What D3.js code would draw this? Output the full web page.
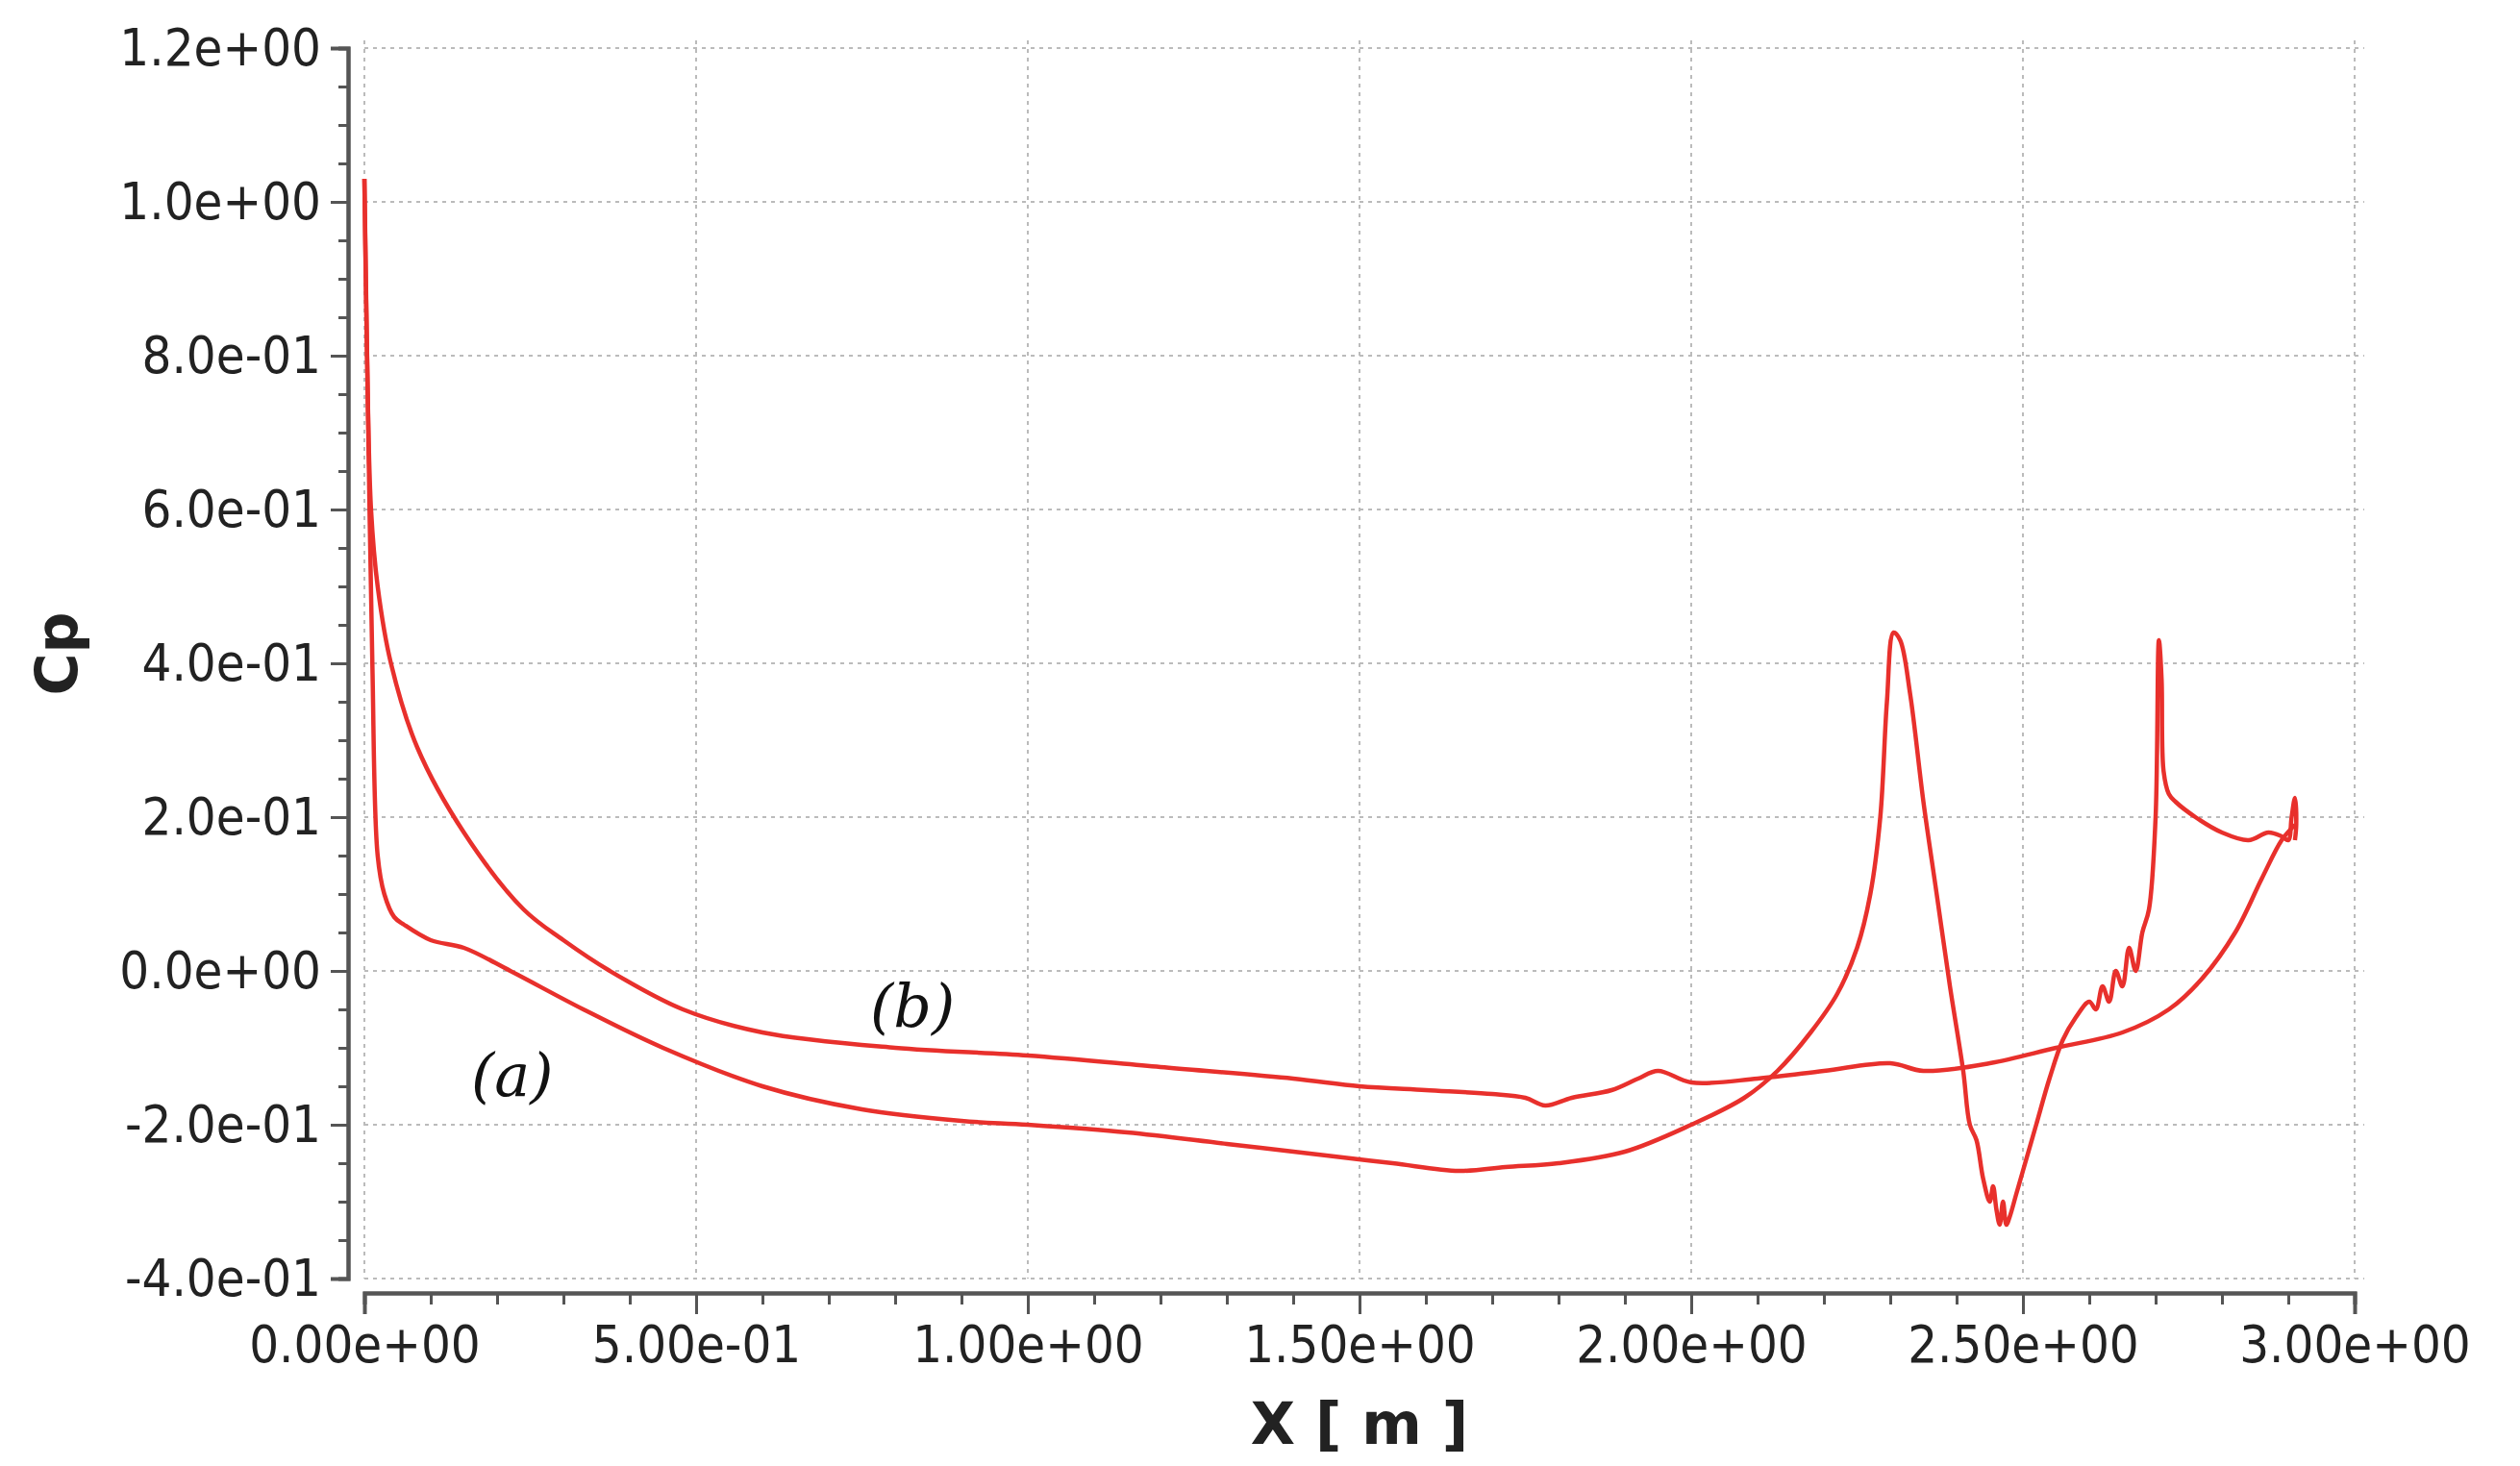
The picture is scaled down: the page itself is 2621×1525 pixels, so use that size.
<!DOCTYPE html>
<html><head><meta charset="utf-8">
<script src="https://cdn.jsdelivr.net/npm/d3@7"></script>
<style>body{margin:0;background:#fff}</style></head>
<body><svg id="c" width="2621" height="1525"></svg>
<script>
const xTicks=[0,0.5,1.0,1.5,2.0,2.5,3.0];
const xTickLabels=["0.00e+00","5.00e-01","1.00e+00","1.50e+00","2.00e+00","2.50e+00","3.00e+00"];
const yTicks=[1.2,1.0,0.8,0.6,0.4,0.2,0,-0.2,-0.4];
const yTickLabels=["1.2e+00","1.0e+00","8.0e-01","6.0e-01","4.0e-01","2.0e-01","0.0e+00","-2.0e-01","-4.0e-01"];
// curve (a): lower branch with the aft peaks
const aX=[0,0.005,0.012,0.02,0.03,0.045,0.06,0.1,0.15,0.22,0.33,0.45,0.6,0.75,0.9,1.0,1.15,1.3,1.45,1.55,1.65,1.72,1.8,1.9,2.0,2.08,2.13,2.18,2.22,2.25,2.27,2.285,2.295,2.305,2.315,2.33,2.35,2.37,2.39,2.41,2.42,2.43,2.44,2.45,2.455,2.46,2.465,2.47,2.475,2.48,2.49,2.5,2.52,2.54,2.56,2.58,2.6,2.61,2.62,2.63,2.64,2.65,2.66,2.67,2.68,2.69,2.70,2.705,2.709,2.712,2.72,2.73,2.76,2.8,2.84,2.87,2.89,2.9,2.905,2.91,2.912,2.91];
const aY=[1.03,0.75,0.4,0.15,0.1,0.07,0.06,0.04,0.03,0.0,-0.05,-0.1,-0.15,-0.18,-0.195,-0.2,-0.21,-0.225,-0.24,-0.25,-0.26,-0.255,-0.25,-0.235,-0.2,-0.165,-0.13,-0.08,-0.03,0.03,0.1,0.2,0.35,0.44,0.43,0.36,0.22,0.1,-0.02,-0.13,-0.2,-0.22,-0.27,-0.3,-0.28,-0.31,-0.33,-0.3,-0.33,-0.32,-0.29,-0.26,-0.2,-0.14,-0.09,-0.06,-0.04,-0.05,-0.02,-0.04,0.0,-0.02,0.03,0.0,0.05,0.08,0.2,0.43,0.38,0.26,0.23,0.22,0.2,0.18,0.17,0.18,0.175,0.17,0.2,0.225,0.19,0.17];
// curve (b): upper branch
const bX=[0,0.004,0.01,0.02,0.04,0.08,0.15,0.24,0.3,0.37,0.48,0.6,0.8,1.0,1.2,1.4,1.5,1.6,1.7,1.75,1.78,1.82,1.88,1.92,1.95,2.0,2.1,2.2,2.3,2.35,2.45,2.55,2.65,2.72,2.77,2.82,2.86,2.89,2.91];
const bY=[1.03,0.8,0.6,0.5,0.4,0.29,0.18,0.08,0.04,0.0,-0.05,-0.08,-0.1,-0.11,-0.125,-0.14,-0.15,-0.155,-0.16,-0.165,-0.175,-0.165,-0.155,-0.14,-0.13,-0.145,-0.14,-0.13,-0.12,-0.13,-0.12,-0.1,-0.08,-0.05,-0.01,0.05,0.12,0.17,0.19];

const svg=d3.select("#c");
const x=d3.scaleLinear().domain([0,3]).range([379,2449]);
const y=d3.scaleLinear().domain([-0.4,1.2]).range([1330,50]);
const font="'DejaVu Sans Condensed','DejaVu Sans',sans-serif";
svg.append("g").selectAll("line").data(xTicks).join("line")
 .attr("x1",d=>x(d)).attr("x2",d=>x(d)).attr("y1",y(1.2)-8).attr("y2",y(-0.4))
 .attr("stroke","#bbb").attr("stroke-width",2).attr("stroke-dasharray","4,5");
svg.append("g").selectAll("line").data(yTicks).join("line")
 .attr("x1",x(0)).attr("x2",x(3)+10).attr("y1",d=>y(d)).attr("y2",d=>y(d))
 .attr("stroke","#bbb").attr("stroke-width",2).attr("stroke-dasharray","4,5");
svg.append("g").attr("transform","translate(362,0)")
 .call(d3.axisLeft(y).tickValues(yTicks).tickFormat((d,i)=>yTickLabels[i]).tickSize(18).tickPadding(10));
svg.append("g").attr("transform","translate(362,0)")
 .call(d3.axisLeft(y).tickValues(d3.range(-0.4,1.2001,0.05)).tickFormat("").tickSize(10));
svg.append("g").attr("transform","translate(0,1345)")
 .call(d3.axisBottom(x).tickValues(xTicks).tickFormat((d,i)=>xTickLabels[i]).tickSize(22).tickPadding(12));
svg.append("g").attr("transform","translate(0,1345)")
 .call(d3.axisBottom(x).tickValues(d3.range(0,3.0001,0.1)).tickFormat("").tickSize(12));
svg.selectAll(".domain").attr("stroke","#555").attr("stroke-width",4);
svg.selectAll(".tick line").attr("stroke","#555").attr("stroke-width",3);
svg.selectAll(".tick text").attr("font-family",font).attr("font-size",54).attr("fill","#222");
svg.append("text").attr("x",1414).attr("y",1502).attr("text-anchor","middle")
 .attr("font-family","'DejaVu Sans',sans-serif").attr("font-weight","bold").attr("font-size",60).attr("fill","#222").text("X [ m ]");
svg.append("text").attr("transform","translate(80,680) rotate(-90)").attr("text-anchor","middle")
 .attr("font-family","'DejaVu Sans',sans-serif").attr("font-weight","bold").attr("font-size",60).attr("fill","#222").text("Cp");
const line=d3.line().x(d=>x(d[0])).y(d=>y(d[1])).curve(d3.curveCatmullRom.alpha(0.5));
[[aX,aY],[bX,bY]].forEach(([xs,ys])=>{
 svg.append("path").datum(xs.map((v,i)=>[v,ys[i]])).attr("d",line)
  .attr("fill","none").attr("stroke","#e8302c").attr("stroke-width",4.5).attr("stroke-linejoin","round");
});
svg.append("text").attr("x",490).attr("y",1140).attr("font-family","'DejaVu Serif',serif").attr("font-style","italic")
 .attr("font-size",62).attr("fill","#111").text("(a)");
svg.append("text").attr("x",905).attr("y",1068).attr("font-family","'DejaVu Serif',serif").attr("font-style","italic")
 .attr("font-size",62).attr("fill","#111").text("(b)");
</script></body></html>
